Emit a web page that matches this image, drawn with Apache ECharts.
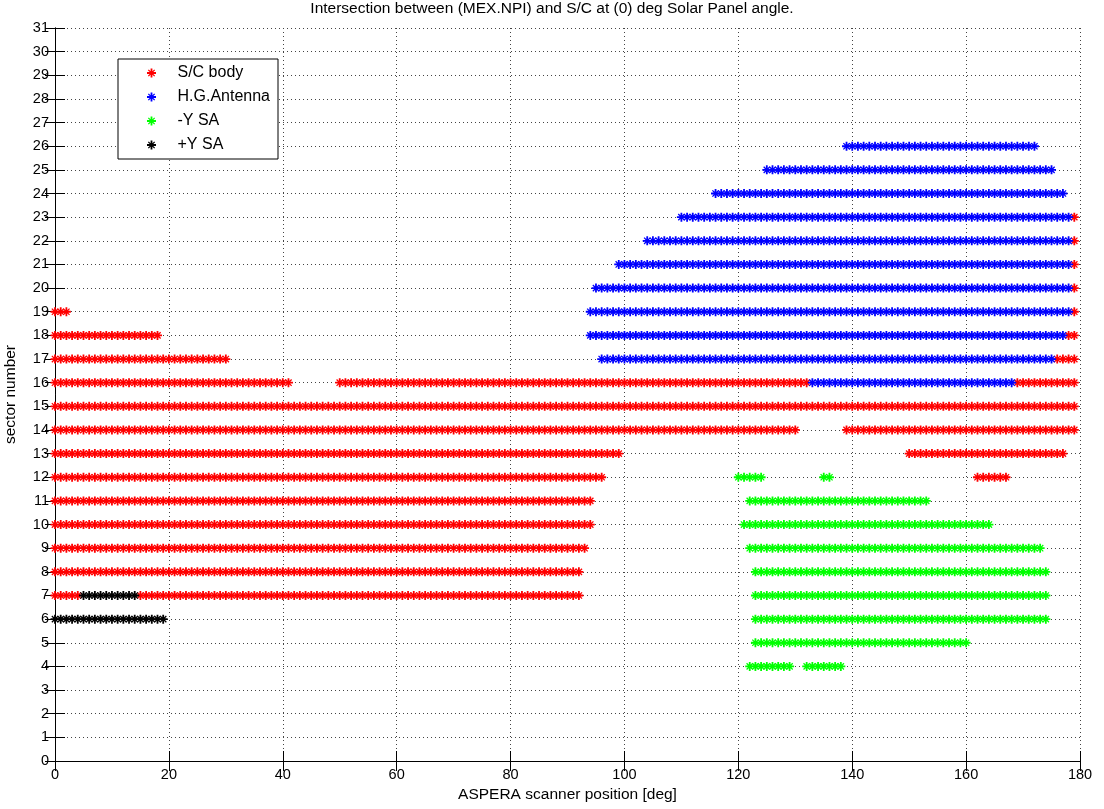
<!DOCTYPE html>
<html><head><meta charset="utf-8">
<script src="https://cdn.jsdelivr.net/npm/echarts@6/dist/echarts.min.js"></script>
<style>html,body{margin:0;padding:0;background:#fff}#c{width:1104px;height:809px}</style>
</head><body><div id="c"></div>
<script>
// ---------------- DATA ----------------
const titleText = 'Intersection between (MEX.NPI) and S/C at (0) deg Solar Panel angle.';
const xName = 'ASPERA scanner position [deg]';
const yName = 'sector number';
const seriesNames = ['S/C body', 'H.G.Antenna', '-Y SA', '+Y SA'];
const xTicks = [0, 20, 40, 60, 80, 100, 120, 140, 160, 180];
const yTicks = [0,1,2,3,4,5,6,7,8,9,10,11,12,13,14,15,16,17,18,19,20,21,22,23,24,25,26,27,28,29,30,31];

// Runs of intersecting scanner positions, one sample per degree:
// [sector, first position (deg), last position (deg)]
const scBodyRuns = [
  [23, 179, 179], [22, 179, 179], [21, 179, 179], [20, 179, 179],
  [19, 0, 2], [19, 179, 179],
  [18, 0, 18], [18, 178, 179],
  [17, 0, 30], [17, 176, 179],
  [16, 0, 41], [16, 50, 132], [16, 169, 179],
  [15, 0, 179],
  [14, 0, 130], [14, 139, 179],
  [13, 0, 99], [13, 150, 177],
  [12, 0, 96], [12, 162, 167],
  [11, 0, 94],
  [10, 0, 94],
  [9, 0, 93],
  [8, 0, 92],
  [7, 0, 4], [7, 15, 92]
];
const hgAntennaRuns = [
  [26, 139, 172],
  [25, 125, 175],
  [24, 116, 177],
  [23, 110, 178],
  [22, 104, 178],
  [21, 99, 178],
  [20, 95, 178],
  [19, 94, 178],
  [18, 94, 177],
  [17, 96, 175],
  [16, 133, 168]
];
const minusYSARuns = [
  [12, 120, 124], [12, 135, 136],
  [11, 122, 153],
  [10, 121, 164],
  [9, 122, 173],
  [8, 123, 174],
  [7, 123, 174],
  [6, 123, 174],
  [5, 123, 160],
  [4, 122, 129], [4, 132, 138]
];
const plusYSARuns = [
  [7, 5, 14],
  [6, 0, 19]
];

// ---------------- CHART ----------------
function runsToPoints(runs) {
  const pts = [];
  runs.forEach(function (r) {
    for (let d = r[1]; d <= r[2]; d++) pts.push([d, r[0]]);
  });
  return pts;
}
const FONT = '"Liberation Sans", Arial, sans-serif';
const ASTER = 'path://M4 0L6 0L6 10L4 10Z M0 4L10 4L10 6L0 6Z M1 2L2 1L9 8L8 9Z M8 1L9 2L2 9L1 8Z';
const colors = ['#ff0000', '#0000ff', '#00ff00', '#000000'];
const runSets = [scBodyRuns, hgAntennaRuns, minusYSARuns, plusYSARuns];

const gridDots = { show: true, lineStyle: { type: [1, 3], color: '#444', width: 1 } };
const axisLineBlack = { show: true, lineStyle: { color: '#000', width: 1 } };

const chart = echarts.init(document.getElementById('c'), null, { renderer: 'canvas' });
chart.setOption({
  animation: false,
  backgroundColor: '#fff',
  textStyle: { fontFamily: FONT },
  title: {
    text: titleText, left: 'center', top: 0, padding: [1, 0, 0, 30],
    textStyle: { fontSize: 15.5, fontWeight: 'normal', color: '#000', fontFamily: FONT }
  },
  grid: { left: 55, right: 24, top: 28, bottom: 48, containLabel: false, outerBoundsMode: 'none' },
  legend: {
    orient: 'vertical', left: 118, top: 59,
    padding: [6, 8, 6, 29],
    itemWidth: 42, itemHeight: 9, itemGap: 8,
    symbolKeepAspect: true,
    borderColor: '#000', borderWidth: 1, backgroundColor: '#fff',
    textStyle: { fontSize: 16, color: '#000', lineHeight: 15, fontFamily: FONT },
    data: seriesNames.map(function (n) { return { name: n, icon: ASTER }; })
  },
  xAxis: [{
    type: 'value', min: xTicks[0], max: xTicks[xTicks.length - 1], interval: xTicks[1] - xTicks[0],
    position: 'bottom',
    name: xName, nameLocation: 'middle', nameGap: 25,
    nameTextStyle: { fontSize: 15.5, color: '#000', fontFamily: FONT },
    axisLine: axisLineBlack,
    axisTick: { show: true, inside: true, length: 10, lineStyle: { color: '#000' } },
    axisLabel: { fontSize: 14.5, color: '#000', margin: 6, fontFamily: FONT },
    splitLine: gridDots
  }, {
    type: 'value', min: xTicks[0], max: xTicks[xTicks.length - 1], interval: xTicks[1] - xTicks[0],
    position: 'top',
    axisLine: axisLineBlack,
    axisTick: { show: true, inside: true, length: 10, lineStyle: { color: '#000' } },
    axisLabel: { show: false },
    splitLine: { show: false }
  }],
  yAxis: [{
    type: 'value', min: yTicks[0], max: yTicks[yTicks.length - 1], interval: yTicks[1] - yTicks[0],
    position: 'left',
    name: yName, nameLocation: 'middle', nameGap: 36, nameRotate: 90,
    nameTextStyle: { fontSize: 15.5, color: '#000', fontFamily: FONT },
    axisLine: axisLineBlack,
    axisTick: { show: true, inside: true, length: 10, lineStyle: { color: '#000' } },
    axisLabel: { fontSize: 14.5, color: '#000', margin: 6, fontFamily: FONT },
    splitLine: gridDots
  }, {
    type: 'value', min: yTicks[0], max: yTicks[yTicks.length - 1], interval: yTicks[1] - yTicks[0],
    position: 'right',
    axisLine: axisLineBlack,
    axisTick: { show: true, inside: true, length: 10, lineStyle: { color: '#000' } },
    axisLabel: { show: false },
    splitLine: { show: false }
  }],
  series: seriesNames.map(function (n, i) {
    return {
      name: n, type: 'scatter', xAxisIndex: 0, yAxisIndex: 0,
      symbol: ASTER, symbolSize: 9,
      itemStyle: { color: colors[i], opacity: 1 },
      emphasis: { disabled: true },
      data: runsToPoints(runSets[i])
    };
  })
});
</script>
</body></html>
